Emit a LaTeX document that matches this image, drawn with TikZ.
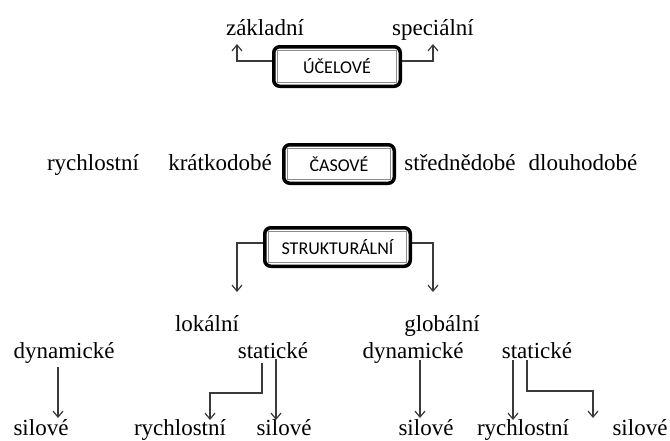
\documentclass[tikz,border=0pt]{standalone}
\usepackage{fontspec}
\setmainfont{Liberation Serif}
\newfontfamily\boxfont{Carlito}
\usetikzlibrary{arrows.meta,calc}
\definecolor{lineGray}{HTML}{3A3A3A}
\definecolor{innerGray}{HTML}{8C8C8C}

\begin{document}
\begin{tikzpicture}[x=0.5pt, y=-0.5pt,
	typbox/.style={draw, line width=1.75pt, rounded corners=3pt, inner sep=0pt,
		font=\boxfont\fontsize{9}{10}\selectfont,
		path picture={\draw[innerGray, line width=0.5pt, sharp corners]
			([shift={(2pt,-2pt)}]path picture bounding box.north west) rectangle
			([shift={(-2pt,2pt)}]path picture bounding box.south east);}},
	pojem/.style={anchor=base, inner sep=0pt, font=\fontsize{11.5}{13}\selectfont},
	conn/.style={draw=lineGray, line width=0.6pt, -{Straight Barb[length=3pt,width=5pt]}}]
	\useasboundingbox (0,0) rectangle (670,440);
	
	% Uzly
	\node[pojem] (zakl) at (265,35) {základní};
	\node[pojem] (spec) at (433,35) {speciální};
	\node[typbox, minimum width=63.25pt, minimum height=19.75pt] (ucel) at (337,66.5) {ÚČELOVÉ};
	
	\node[pojem] (rych) at (93,170) {rychlostní};
	\node[pojem] (krat) at (220,170) {krátkodobé};
	\node[typbox, minimum width=55.25pt, minimum height=19.25pt] (cas) at (339,164) {ČASOVÉ};
	\node[pojem] (stred) at (460,170) {střednědobé};
	\node[pojem] (dlouh) at (583,170) {dlouhodobé};
	
	\node[typbox, minimum width=72.75pt, minimum height=19.25pt] (struk) at (337.5,247) {STRUKTURÁLNÍ};
	
	\node[pojem] (lok) at (207,331) {lokální};
	\node[pojem] (glob) at (442,331) {globální};
	
	\node[pojem] (ldyn) at (64,358) {dynamické};
	\node[pojem] (lstat) at (273,358) {statické};
	\node[pojem] (gdyn) at (413,358) {dynamické};
	\node[pojem] (gstat) at (537,358) {statické};
	
	\node[pojem] (lsil) at (41,435) {silové};
	\node[pojem] (lrych) at (180,435) {rychlostní};
	\node[pojem] (lsil2) at (284,435) {silové};
	\node[pojem] (gsil) at (426,435) {silové};
	\node[pojem] (grych) at (523,435) {rychlostní};
	\node[pojem] (gsil2) at (640,435) {silové};
	
	% Hrany
	\draw[conn] ($(ucel.west)+(0,-5.5)$) -| ($(zakl.base)+(-28,9)$);
	\draw[conn] ($(ucel.east)+(0,-5.5)$) -| ($(spec.base)+(0,9)$);
	
	\draw[conn] ($(struk.west)+(0,-4)$) -| ($(lok.base)+(30,-39)$);
	\draw[conn] ($(struk.east)+(0,-4)$) -| ($(glob.base)+(-9,-39)$);
	
	\draw[conn] ($(ldyn.base)+(-6,9)$) -- ($(lsil.base)+(17,-17)$);
	\draw[conn] ($(lstat.base)+(-11,5)$) -- ++(0,30) -| ($(lrych.base)+(30,-15)$);
	\draw[conn] ($(lstat.base)+(3,1)$) -- ($(lsil2.base)+(-8,-15)$);
	\draw[conn] ($(gdyn.base)+(7,2)$) -- ($(gsil.base)+(-6,-17)$);
	\draw[conn] ($(gstat.base)+(-24,2)$) -- ($(grych.base)+(-10,-15)$);
	\draw[conn] ($(gstat.base)+(-10,2)$) -- ++(0,31) -| ($(gsil2.base)+(-47,-17)$);
	
\end{tikzpicture}
\end{document}
